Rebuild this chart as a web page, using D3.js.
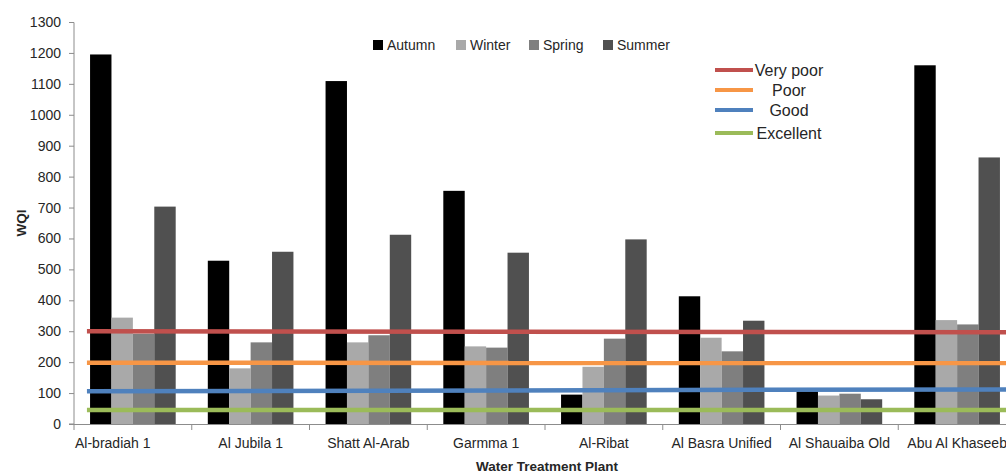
<!DOCTYPE html>
<html>
<head>
<meta charset="utf-8">
<script src="https://cdn.jsdelivr.net/npm/d3@7"></script>
<style>
  html, body { margin: 0; padding: 0; background: #fff; }
  svg { display: block; font-family: "Liberation Sans", Arial, sans-serif; }
</style>
</head>
<body>
<svg id="chart" width="1006" height="474"></svg>
<script>
// ---- data ----
const categories = ["Al-bradiah 1", "Al Jubila 1", "Shatt Al-Arab", "Garmma 1", "Al-Ribat", "Al Basra Unified", "Al Shauaiba Old", "Abu Al Khaseeb"];
const seriesNames = ["Autumn", "Winter", "Spring", "Summer"];
const autumn = [1195, 528, 1109, 754, 95, 413, 106, 1160];
const winter = [344, 180, 264, 251, 185, 279, 92, 336];
const spring = [292, 264, 287, 247, 276, 235, 98, 322];
const summer = [703, 557, 612, 554, 597, 334, 80, 862];
const yTicks = [0, 100, 200, 300, 400, 500, 600, 700, 800, 900, 1000, 1100, 1200, 1300];
const thresholdNames = ["Very poor", "Poor", "Good", "Excellent"];
const thresholdStart = [300, 198, 106, 45];
const thresholdEnd = [297, 197, 112, 45];
// line extent, in category-index units
const thresholdFrom = 0.11;
const thresholdTo = 8;

const seriesValues = [autumn, winter, spring, summer];
const seriesColors = ["#000000", "#a9a9a9", "#7f7f7f", "#505050"];
const thresholdColors = ["#c0504d", "#f79646", "#4f81bd", "#9bbb59"];

// ---- layout ----
const svg = d3.select("#chart");
const plotLeft = 74, plotRight = 1016, plotTop = 22, plotBottom = 424;
const axisColor = "#8c8c8c";
const textColor = "#262626";

const x0 = d3.scaleBand().domain(categories).range([plotLeft, plotRight]).paddingInner(0).paddingOuter(0);
const x1 = d3.scaleBand().domain(seriesNames).range([0, x0.bandwidth()]).paddingInner(0).paddingOuter(0.75);
const xIdx = d3.scaleLinear().domain([0, categories.length]).range([plotLeft, plotRight]);
const y = d3.scaleLinear().domain([0, 1300]).range([plotBottom, plotTop]);

// bars
const g = svg.append("g");
categories.forEach((c, i) => {
  seriesNames.forEach((s, j) => {
    const v = seriesValues[j][i];
    g.append("rect")
      .attr("x", x0(c) + x1(s))
      .attr("y", y(v))
      .attr("width", x1.bandwidth())
      .attr("height", y(0) - y(v))
      .attr("fill", seriesColors[j]);
  });
});

// threshold lines
thresholdNames.forEach((n, k) => {
  svg.append("line")
    .attr("x1", xIdx(thresholdFrom)).attr("x2", xIdx(thresholdTo))
    .attr("y1", y(thresholdStart[k])).attr("y2", y(thresholdEnd[k]))
    .attr("stroke", thresholdColors[k]).attr("stroke-width", 4.5);
});

// y axis
const yAxis = d3.axisLeft(y).tickValues(yTicks).tickFormat(d3.format("d")).tickSize(5).tickPadding(8);
const ya = svg.append("g").attr("transform", `translate(${plotLeft},0)`).call(yAxis);
ya.select(".domain").attr("stroke", axisColor).attr("d", `M-5,${plotTop + 0.5}H0V${plotBottom}H-5`);
ya.selectAll(".tick line").attr("stroke", axisColor);
ya.selectAll(".tick text").attr("fill", textColor).style("font-size", "14px").style("font-family", "Liberation Sans, Arial, sans-serif");

// x axis
const xa = svg.append("g").attr("transform", `translate(0,${plotBottom})`);
xa.append("line").attr("x1", plotLeft).attr("x2", plotRight).attr("y1", 0.5).attr("y2", 0.5).attr("stroke", axisColor);
d3.range(categories.length + 1).forEach(i => {
  xa.append("line").attr("x1", xIdx(i)).attr("x2", xIdx(i)).attr("y1", 0).attr("y2", 6).attr("stroke", axisColor);
});
categories.forEach((c, i) => {
  const first = i === 0;
  xa.append("text")
    .attr("x", first ? plotLeft + 1 : x0(c) + x0.bandwidth() / 2)
    .attr("y", 24)
    .attr("text-anchor", first ? "start" : "middle")
    .attr("fill", textColor)
    .style("font-size", "14px")
    .text(c);
});

// axis titles
svg.append("text").attr("x", 547).attr("y", 471).attr("text-anchor", "middle")
  .attr("fill", textColor).style("font-size", "13.5px").style("font-weight", "bold").text("Water Treatment Plant");
svg.append("text").attr("transform", "translate(26,223) rotate(-90)").attr("text-anchor", "middle")
  .attr("fill", textColor).style("font-size", "13.5px").style("font-weight", "bold").text("WQI");

// top legend
const legendX = [373, 456, 529, 603];
seriesNames.forEach((s, j) => {
  const lg = svg.append("g").attr("transform", `translate(${legendX[j]},45)`);
  lg.append("rect").attr("x", 0).attr("y", -5).attr("width", 10).attr("height", 10).attr("fill", seriesColors[j]);
  lg.append("text").attr("x", 14).attr("y", 5).attr("fill", textColor).style("font-size", "14px").text(s);
});

// threshold legend
const tlY = [70, 90, 110, 133];
thresholdNames.forEach((n, k) => {
  svg.append("line").attr("x1", 715).attr("x2", 753).attr("y1", tlY[k]).attr("y2", tlY[k])
    .attr("stroke", thresholdColors[k]).attr("stroke-width", 4);
  svg.append("text").attr("x", 789).attr("y", tlY[k] + 6).attr("text-anchor", "middle")
    .attr("fill", textColor).style("font-size", "16px").text(n);
});
</script>
</body>
</html>
